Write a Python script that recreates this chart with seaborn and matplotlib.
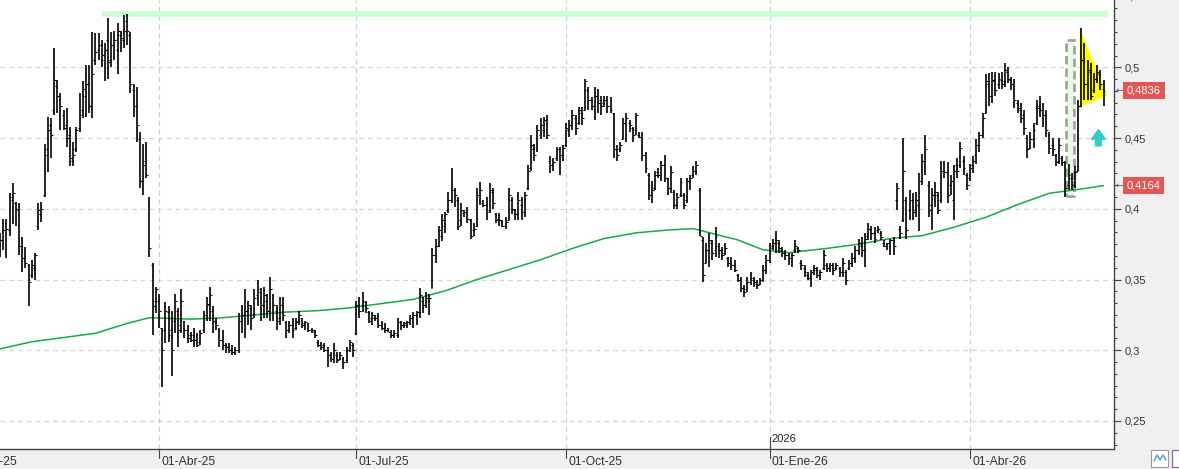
import numpy as np
import pandas as pd
import matplotlib
matplotlib.use("Agg")
import matplotlib.pyplot as plt
import matplotlib.transforms as mtransforms
from matplotlib.patches import Rectangle, Polygon
from matplotlib.ticker import MultipleLocator
import seaborn as sns

# ---------------- data ----------------
start_date = "2025-01-21"
holidays = ["2025-04-18", "2025-04-21", "2025-05-01", "2025-12-25", "2025-12-26",
            "2026-01-01", "2026-04-03", "2026-04-06", "2026-05-01"]

highs = [
    .383, .393, .393, .411, .418, .405, .404, .380, .373, .361,
    .364, .369, .404, .405, .446, .465, .464, .514, .491, .482,
    .470, .471, .458, .447, .458, .482, .490, .502, .502, .525,
    .524, .524, .519, .517, .535, .525, .526, .531, .526, .537,
    .538, .525, .488, .486, .454, .446, .447, .408, .362, .345,
    .340, .316, .334, .331, .328, .340, .330, .343, .321, .318,
    .313, .316, .312, .314, .328, .338, .345, .331, .323, .316,
    .314, .305, .305, .304, .302, .326, .332, .343, .335, .332,
    .343, .350, .344, .345, .340, .352, .340, .332, .338, .338,
    .321, .321, .323, .323, .328, .323, .321, .319, .316, .314,
    .307, .306, .305, .302, .299, .305, .299, .299, .295, .302,
    .307, .305, .335, .338, .341, .335, .328, .327, .325, .326,
    .321, .319, .316, .314, .314, .323, .321, .320, .321, .325,
    .327, .328, .344, .338, .341, .340, .372, .379, .388, .396,
    .398, .412, .429, .415, .408, .404, .399, .401, .393, .390,
    .415, .419, .406, .408, .418, .415, .397, .397, .392, .394,
    .415, .408, .400, .412, .408, .412, .431, .452, .446, .459,
    .464, .465, .466, .437, .436, .444, .444, .445, .461, .463,
    .470, .466, .472, .472, .492, .486, .479, .486, .485, .480,
    .480, .480, .479, .468, .445, .447, .464, .468, .463, .458,
    .468, .454, .454, .440, .425, .420, .427, .429, .434, .438,
    .422, .430, .413, .411, .422, .411, .422, .424, .430, .434,
    .415, .380, .376, .383, .378, .387, .376, .373, .376, .366,
    .366, .364, .354, .352, .346, .352, .355, .352, .350, .351,
    .360, .367, .376, .379, .384, .378, .373, .371, .369, .369,
    .378, .373, .364, .360, .355, .357, .360, .359, .357, .371,
    .362, .362, .362, .362, .359, .365, .357, .364, .369, .374,
    .379, .380, .383, .390, .388, .387, .388, .384, .378, .376,
    .379, .380, .418, .388, .450, .408, .413, .411, .412, .425,
    .439, .452, .420, .415, .419, .412, .434, .434, .433, .424,
    .431, .436, .447, .437, .425, .432, .437, .449, .454, .468,
    .495, .496, .497, .497, .496, .497, .503, .500, .493, .492,
    .477, .475, .470, .452, .454, .461, .477, .480, .475, .470,
    .454, .450, .439, .450, .437, .434, .432, .425, .430, .477,
    .528, .517, .505, .503, .496, .502, .498, .491,
]

lows = [
    .366, .371, .365, .381, .389, .388, .367, .355, .358, .331,
    .351, .350, .385, .391, .408, .426, .436, .466, .468, .456,
    .456, .444, .430, .430, .440, .454, .464, .465, .468, .464,
    .502, .505, .500, .490, .492, .500, .505, .495, .511, .514,
    .516, .482, .465, .447, .415, .410, .422, .366, .311, .326,
    .316, .274, .305, .306, .282, .312, .302, .312, .309, .305,
    .306, .302, .302, .304, .312, .321, .321, .312, .314, .302,
    .300, .298, .298, .297, .297, .298, .312, .309, .318, .314,
    .323, .331, .321, .323, .323, .321, .321, .314, .318, .321,
    .309, .312, .309, .314, .318, .316, .314, .313, .312, .309,
    .302, .300, .299, .288, .292, .291, .291, .293, .287, .291,
    .299, .295, .311, .323, .327, .326, .319, .318, .321, .316,
    .314, .312, .313, .309, .309, .309, .314, .316, .316, .318,
    .316, .318, .323, .326, .330, .325, .344, .362, .373, .377,
    .383, .397, .404, .401, .385, .388, .394, .390, .379, .381,
    .387, .403, .401, .392, .397, .400, .390, .388, .387, .386,
    .392, .396, .392, .392, .392, .394, .413, .427, .434, .440,
    .449, .451, .449, .425, .427, .434, .424, .434, .444, .451,
    .456, .452, .459, .459, .470, .470, .470, .463, .468, .466,
    .472, .468, .468, .436, .434, .440, .449, .447, .454, .447,
    .452, .450, .434, .425, .406, .404, .413, .422, .420, .419,
    .410, .411, .400, .400, .408, .400, .404, .413, .422, .424,
    .381, .348, .362, .359, .364, .366, .365, .364, .367, .359,
    .357, .355, .348, .341, .338, .341, .346, .345, .343, .346,
    .348, .354, .362, .371, .369, .369, .366, .364, .360, .359,
    .369, .369, .357, .352, .350, .345, .353, .351, .350, .357,
    .355, .355, .353, .357, .352, .352, .346, .357, .359, .362,
    .367, .366, .359, .378, .378, .376, .383, .378, .373, .371,
    .367, .367, .399, .379, .391, .379, .392, .392, .394, .384,
    .417, .424, .394, .385, .401, .396, .404, .422, .404, .410,
    .392, .422, .429, .424, .413, .420, .425, .432, .440, .450,
    .468, .473, .475, .480, .485, .485, .486, .489, .484, .471,
    .468, .461, .452, .436, .442, .443, .459, .465, .458, .451,
    .439, .437, .430, .432, .430, .408, .413, .413, .415, .427,
    .472, .477, .477, .477, .482, .489, .484, .473,
]

opens = [
    .374, .378, .385, .385, .406, .404, .399, .374, .365, .360,
    .353, .358, .388, .396, .410, .442, .459, .470, .487, .477,
    .466, .459, .452, .434, .442, .457, .470, .480, .488, .473,
    .505, .512, .516, .505, .519, .505, .516, .512, .523, .519,
    .533, .523, .484, .473, .449, .420, .434, .403, .360, .335,
    .335, .316, .314, .327, .314, .321, .328, .318, .320, .314,
    .311, .311, .307, .306, .314, .325, .332, .328, .321, .314,
    .307, .304, .302, .300, .299, .300, .321, .325, .328, .330,
    .325, .339, .341, .332, .335, .328, .339, .328, .323, .332,
    .320, .314, .318, .316, .321, .323, .319, .318, .314, .313,
    .306, .304, .304, .300, .297, .294, .297, .294, .294, .293,
    .300, .304, .312, .332, .332, .334, .327, .323, .323, .321,
    .318, .316, .314, .313, .311, .311, .320, .318, .318, .320,
    .323, .325, .327, .335, .332, .335, .344, .367, .374, .381,
    .388, .399, .406, .413, .406, .392, .397, .398, .392, .385,
    .388, .410, .404, .403, .399, .412, .396, .393, .391, .388,
    .392, .406, .399, .396, .403, .398, .415, .429, .442, .442,
    .452, .456, .463, .434, .431, .436, .442, .438, .445, .456,
    .459, .464, .461, .468, .470, .484, .477, .473, .480, .477,
    .475, .477, .473, .468, .442, .442, .449, .459, .461, .457,
    .456, .452, .451, .438, .424, .410, .415, .426, .424, .431,
    .422, .415, .412, .403, .410, .410, .406, .420, .424, .427,
    .413, .378, .362, .371, .376, .371, .374, .371, .369, .365,
    .362, .360, .353, .350, .344, .343, .348, .350, .347, .347,
    .350, .357, .364, .374, .376, .376, .371, .369, .367, .365,
    .371, .372, .362, .358, .353, .351, .357, .357, .353, .358,
    .360, .358, .360, .358, .358, .355, .355, .358, .362, .365,
    .371, .374, .371, .381, .386, .383, .385, .383, .376, .374,
    .374, .378, .406, .386, .392, .406, .399, .406, .399, .403,
    .420, .436, .417, .403, .410, .410, .406, .427, .426, .417,
    .406, .431, .431, .434, .424, .422, .431, .438, .445, .452,
    .468, .488, .480, .490, .488, .491, .490, .497, .491, .488,
    .475, .470, .466, .450, .443, .449, .461, .473, .470, .466,
    .452, .445, .438, .434, .436, .433, .417, .422, .419, .427,
    .473, .505, .488, .497, .484, .492, .495, .485,
]

closes = [
    .378, .385, .386, .408, .411, .400, .374, .365, .362, .348,
    .360, .367, .399, .400, .438, .456, .452, .491, .480, .473,
    .457, .450, .436, .438, .456, .466, .485, .488, .473, .495,
    .511, .516, .509, .512, .504, .516, .519, .526, .521, .526,
    .526, .488, .473, .459, .420, .431, .424, .372, .331, .343,
    .328, .300, .328, .311, .300, .335, .314, .335, .314, .309,
    .307, .307, .304, .312, .325, .333, .339, .321, .318, .307,
    .304, .302, .300, .299, .300, .321, .325, .328, .332, .323,
    .337, .343, .332, .339, .328, .343, .332, .321, .332, .325,
    .314, .318, .314, .320, .325, .318, .320, .314, .314, .311,
    .304, .302, .300, .297, .294, .300, .293, .297, .292, .300,
    .306, .300, .332, .328, .335, .330, .321, .325, .323, .318,
    .316, .314, .313, .311, .312, .320, .318, .319, .320, .323,
    .325, .327, .339, .332, .337, .337, .367, .374, .385, .392,
    .396, .406, .413, .410, .388, .399, .398, .393, .381, .386,
    .410, .413, .403, .398, .413, .404, .392, .392, .388, .391,
    .410, .400, .396, .406, .398, .410, .427, .445, .438, .456,
    .459, .463, .452, .431, .433, .442, .438, .443, .457, .459,
    .466, .457, .470, .464, .490, .477, .473, .480, .475, .473,
    .477, .473, .470, .442, .438, .445, .461, .464, .459, .452,
    .466, .451, .438, .429, .410, .413, .424, .424, .431, .422,
    .415, .426, .403, .408, .419, .403, .420, .422, .427, .431,
    .381, .353, .371, .378, .369, .381, .371, .367, .372, .362,
    .360, .357, .350, .344, .341, .348, .351, .348, .346, .350,
    .357, .364, .372, .376, .378, .372, .369, .367, .365, .367,
    .374, .371, .360, .355, .351, .355, .358, .353, .355, .367,
    .358, .360, .357, .360, .355, .362, .350, .362, .365, .371,
    .376, .371, .379, .386, .383, .379, .386, .380, .374, .376,
    .378, .374, .415, .383, .427, .385, .406, .398, .406, .420,
    .434, .442, .399, .410, .412, .399, .427, .426, .410, .420,
    .427, .427, .443, .429, .417, .429, .434, .445, .452, .464,
    .490, .480, .491, .484, .492, .488, .498, .492, .488, .477,
    .471, .464, .457, .442, .449, .456, .471, .470, .466, .456,
    .443, .442, .433, .445, .433, .415, .424, .417, .426, .473,
    .505, .488, .498, .480, .492, .497, .488, .4836,
]

# 200-session moving average, read at selected bars
ma_bar = [0, 10, 20, 30, 40, 47, 60, 70, 80, 90, 100, 110, 120, 130, 140, 150,
          160, 170, 180, 190, 200, 210, 218, 225, 232, 240, 248, 260, 270, 280,
          290, 300, 310, 320, 330, 340, 347]
ma_vals = [.301, .306, .309, .312, .319, .323, .322, .323, .325, .327, .328, .330,
           .333, .336, .342, .350, .357, .364, .372, .379, .383, .385, .386, .382,
           .378, .371, .369, .372, .375, .379, .381, .387, .394, .403, .411, .414,
           .4164]

tick_dates = ["2025-01-02", "2025-04-01", "2025-07-01", "2025-10-01", "2026-01-02", "2026-04-01"]
tick_labels = ["01-Ene-25", "01-Abr-25", "01-Jul-25", "01-Oct-25", "01-Ene-26", "01-Abr-26"]
year_marker_date = "2026-01-02"
year_marker_label = "2026"

y_ticks = [0.25, 0.30, 0.35, 0.40, 0.45, 0.50]
resistance_level = 0.5377
resistance_from = "2025-03-06"
triangle_pts = [(339.5, 0.528), (339.5, 0.472), (348.1, 0.480)]
box_bars = (335.3, 337.6)
box_prices = (0.409, 0.519)
arrow_bar = 345.4
arrow_prices = (0.4445, 0.456)

# ---------------- figure ----------------
sns.set_style("white")
plt.rcParams["font.family"] = ["Liberation Sans", "DejaVu Sans"]

W, H = 1179, 469
fig = plt.figure(figsize=(W / 100, H / 100), dpi=100, facecolor="#f0f0f0")
plot_w, plot_h = 1114, 449
ax = fig.add_axes([0, (H - plot_h) / H, plot_w / W, plot_h / H])
ax.set_facecolor("white")

n = len(highs)
dates = pd.bdate_range(start=start_date, periods=n, freq="C", holidays=holidays)
xb = np.arange(n)


def date_pos(d):
    d = pd.Timestamp(d)
    if d >= dates[0]:
        return int(dates.searchsorted(d))
    before = pd.bdate_range(start=d, end=dates[0], freq="C", holidays=holidays)
    return -(len(before) - 1)


ymin, ymax = 0.2302, 0.5476
ax.set_xlim(0, 350.3)
ax.set_ylim(ymin, ymax)

# grid
for yv in y_ticks:
    ax.axhline(yv, color="#d6d6d6", lw=0.9, ls=(0, (4, 3)), zorder=0)
tick_pos = [date_pos(d) for d in tick_dates]
year_pos = date_pos(year_marker_date)
for p in tick_pos:
    if p > 0:
        ax.axvline(p, color="#cfcfcf", lw=0.9, ls=(0, (4, 3)), zorder=0)

# resistance band
r0 = date_pos(resistance_from)
ax.plot([r0, 348.4], [resistance_level, resistance_level], color="#ccffcc",
        lw=4.2, solid_capstyle="butt", zorder=1)

# yellow triangle
ax.add_patch(Polygon(triangle_pts, closed=True, fc="#ffff00", ec="none", zorder=2))

# dashed box
ax.add_patch(Rectangle((box_bars[0], box_prices[0]), box_bars[1] - box_bars[0],
                       box_prices[1] - box_prices[0], fc="#e6fbe6", ec="#a3a3a3",
                       lw=2.0, ls=(0, (3, 1.5)), zorder=2))

# moving average
sns.lineplot(x=ma_bar, y=ma_vals, ax=ax, color="#17a84a", lw=1.1, zorder=3)

# OHLC bars
ax.vlines(xb, lows, highs, color="black", lw=1.2, zorder=4)
ax.hlines(opens, xb - 0.6, xb, color="black", lw=0.8, zorder=4)
ax.hlines(closes, xb, xb + 0.6, color="black", lw=0.8, zorder=4)

# cyan arrow
ax.annotate("", xy=(arrow_bar, arrow_prices[1]), xytext=(arrow_bar, arrow_prices[0]),
            arrowprops=dict(arrowstyle="simple,head_length=0.7,head_width=1.0,tail_width=0.4",
                            color="#33cccc", mutation_scale=10, shrinkA=0, shrinkB=0),
            zorder=5)

# spines
for s in ["left", "top"]:
    ax.spines[s].set_visible(False)
for s in ["right", "bottom"]:
    ax.spines[s].set_color("#444444")
    ax.spines[s].set_linewidth(1.0)

# y axis on the right
ax.yaxis.tick_right()
ax.set_yticks(y_ticks)
ax.set_yticklabels([f"{v:g}".replace(".", ",") for v in y_ticks])
ax.yaxis.set_minor_locator(MultipleLocator(0.05 / 6))
ax.tick_params(axis="y", which="major", length=5, width=0.8, color="#444444",
               pad=3, labelsize=8, labelcolor="#333333")
ax.tick_params(axis="y", which="minor", length=2.5, width=0.8, color="#444444")
ax.set_xticks([])
ax.set_xlabel("")
ax.set_ylabel("")

ty = mtransforms.blended_transform_factory(ax.transAxes, ax.transData)
ax.text(1 + 11 / plot_w, 0.55, "0,55", transform=ty, va="center", ha="left",
        fontsize=8, color="#333333", clip_on=False)

# value labels
for val, txt in [(closes[-1], f"{closes[-1]:.4f}"), (ma_vals[-1], f"{ma_vals[-1]:.4f}")]:
    ax.text(1 + 1.5 / plot_w, val, "\u2190", transform=ty, va="center", ha="left",
            fontsize=6.5, color="#555555", family="DejaVu Sans", clip_on=False)
    ax.text(1 + 13 / plot_w, val, txt.replace(".", ","), transform=ty, va="center",
            ha="left", fontsize=8, color="white", clip_on=False,
            bbox=dict(boxstyle="square,pad=0.32", fc="#e25656", ec="none"))

# date labels
tx = mtransforms.blended_transform_factory(ax.transData, ax.transAxes)
for p, lab in zip(tick_pos, tick_labels):
    ax.plot([p, p], [0, -9 / plot_h], transform=tx, color="#444444", lw=0.8, clip_on=False)
    ax.text(p + 0.7, -13 / plot_h, lab, transform=tx, ha="left", va="center",
            fontsize=8.7, color="#333333", clip_on=False)
ax.plot([year_pos, year_pos], [0, 12 / plot_h], transform=tx, color="#444444", lw=0.8)
ax.text(year_pos + 0.7, 10 / plot_h, year_marker_label, transform=tx, ha="left",
        va="center", fontsize=8, color="#222222")

# small toolbar icons bottom-right
fig.patches.append(Rectangle((1151 / W, 2 / H), 17 / W, 17 / H, transform=fig.transFigure,
                             fc="white", ec="#9a9a9a", lw=0.8))
fig.lines.append(plt.Line2D([1154 / W, 1157 / W, 1160 / W, 1163 / W, 1166 / W],
                            [8 / H, 14 / H, 9 / H, 14 / H, 9 / H], transform=fig.transFigure,
                            color="#4a9ad8", lw=1.0))
fig.patches.append(Rectangle((1172 / W, 2 / H), 17 / W, 17 / H, transform=fig.transFigure,
                             fc="white", ec="#9b59b6", lw=0.9))

fig.savefig("out.png", dpi=100, facecolor=fig.get_facecolor())
